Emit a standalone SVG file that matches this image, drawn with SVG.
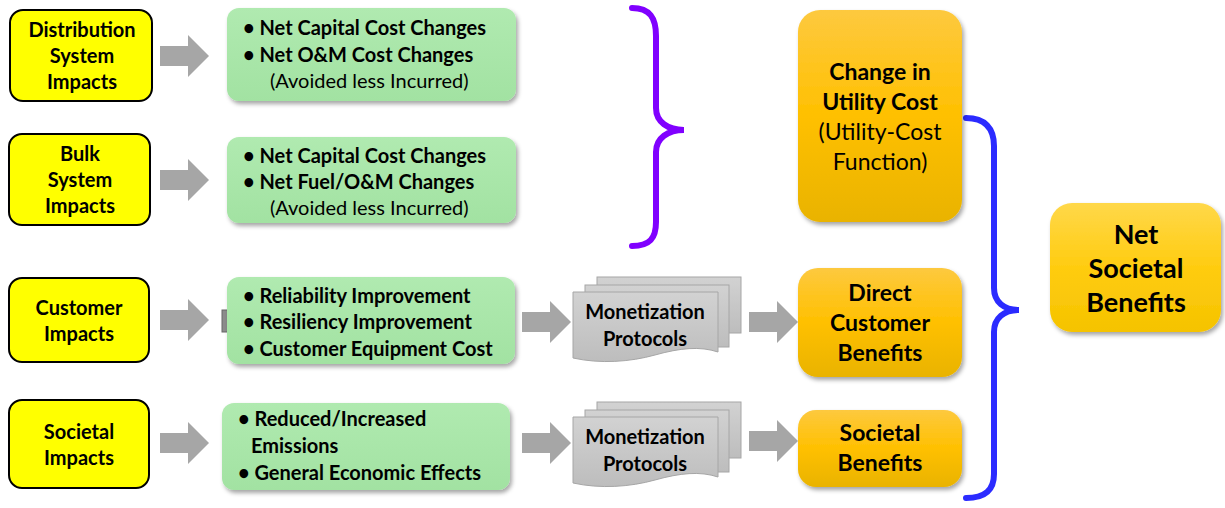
<svg xmlns="http://www.w3.org/2000/svg" width="1225" height="508" viewBox="0 0 1225 508">
<defs>
<filter id="sh" x="-10%" y="-10%" width="125%" height="130%">
<feDropShadow dx="2" dy="3" stdDeviation="2" flood-color="#000" flood-opacity="0.35"/>
</filter>
<linearGradient id="gGreen" x1="0" y1="0" x2="0" y2="1">
<stop offset="0" stop-color="#b0eab0"/><stop offset="1" stop-color="#a2e2a2"/>
</linearGradient>
<linearGradient id="gOrange" x1="0" y1="0" x2="0" y2="1">
<stop offset="0" stop-color="#fdc93f"/><stop offset="0.5" stop-color="#ffc000"/><stop offset="1" stop-color="#e9b300"/>
</linearGradient>
<linearGradient id="gNet" x1="0" y1="0" x2="0" y2="1">
<stop offset="0" stop-color="#ffd84a"/><stop offset="0.5" stop-color="#ffcc10"/><stop offset="1" stop-color="#f5c300"/>
</linearGradient>
<linearGradient id="gDoc" x1="0" y1="0" x2="0" y2="1">
<stop offset="0" stop-color="#d2d2d2"/><stop offset="1" stop-color="#bdbdbd"/>
</linearGradient>
<path id="arr" d="M0,-10 H28 V-21 L49,0 L28,21 V10 H0 Z"/>
</defs>
<style>
.yel{fill:#ffff00;stroke:#000;stroke-width:2}
.grn{fill:url(#gGreen);filter:url(#sh)}
.org{fill:url(#gOrange);filter:url(#sh)}
.doc{fill:url(#gDoc);stroke:#a6a6a6;stroke-width:1}
.arrow{fill:#a6a6a6}
text{font-family:Lato,"Open Sans","Liberation Sans",sans-serif;fill:#000}
.b{font-weight:bold}
.y{font-size:20px;text-anchor:middle;font-weight:bold}
.g{font-size:20px;font-weight:bold}
.gr{font-size:20px}
.m{font-size:20px;text-anchor:middle;font-weight:bold}
.o{font-size:23px;text-anchor:middle}
.n{font-size:27px;text-anchor:middle;font-weight:bold}
.brace{fill:none;stroke-width:6;stroke-linecap:round}
</style>
<rect width="1225" height="508" fill="#fff"/>

<g id="connectors">
<use href="#arr" class="arrow" x="160" y="56"/>
<use href="#arr" class="arrow" x="160" y="180"/>
<use href="#arr" class="arrow" x="160" y="320"/>
<use href="#arr" class="arrow" x="160" y="443"/>
<rect x="222" y="310" width="6" height="22" fill="#8c8c8c" stroke="#666" stroke-width="1"/>
<use href="#arr" class="arrow" x="522" y="322"/>
<use href="#arr" class="arrow" x="522" y="443"/>
<use href="#arr" class="arrow" x="749" y="322"/>
<use href="#arr" class="arrow" x="749" y="441"/>
<path class="brace" stroke="#8000ff" d="M632,8 C650,8 656,18 656,36 V108 C656,122 668,130 684,130 C668,130 656,138 656,152 V222 C656,238 650,246 632,246"/>
<path class="brace" stroke="#2b2bff" d="M966,118 C985,118 994,128 994,146 V288 C994,302 1004,310 1019,310 C1004,310 994,318 994,332 V474 C994,490 985,498 966,498"/>
</g>

<g id="dist">
<rect class="yel" x="10" y="10" width="142" height="91" rx="13"/>
<text class="y" x="82" y="37">Distribution</text>
<text class="y" x="82" y="63">System</text>
<text class="y" x="82" y="89">Impacts</text>
</g>
<g id="bulk">
<rect class="yel" x="9" y="134" width="141" height="91" rx="13"/>
<text class="y" x="80" y="161">Bulk</text>
<text class="y" x="80" y="187">System</text>
<text class="y" x="80" y="213">Impacts</text>
</g>
<g id="cust">
<rect class="yel" x="9" y="278" width="140" height="84" rx="13"/>
<text class="y" x="79" y="315">Customer</text>
<text class="y" x="79" y="341">Impacts</text>
</g>
<g id="soc">
<rect class="yel" x="9" y="400" width="140" height="88" rx="13"/>
<text class="y" x="79" y="439">Societal</text>
<text class="y" x="79" y="465">Impacts</text>
</g>

<g id="g1">
<rect class="grn" x="227" y="8" width="289" height="93" rx="12"/>
<text class="g" x="243" y="35">• Net Capital Cost Changes</text>
<text class="g" x="243" y="62">• Net O&amp;M Cost Changes</text>
<text class="gr" x="270" y="88">(Avoided less Incurred)</text>
</g>
<g id="g2">
<rect class="grn" x="227" y="137" width="289" height="86" rx="12"/>
<text class="g" x="243" y="163">• Net Capital Cost Changes</text>
<text class="g" x="243" y="189">• Net Fuel/O&amp;M Changes</text>
<text class="gr" x="270" y="215">(Avoided less Incurred)</text>
</g>
<g id="g3">
<rect class="grn" x="227" y="277" width="288" height="87" rx="12"/>
<text class="g" x="243" y="303">• Reliability Improvement</text>
<text class="g" x="243" y="329">• Resiliency Improvement</text>
<text class="g" x="243" y="356">• Customer Equipment Cost</text>
</g>
<g id="g4">
<rect class="grn" x="222" y="403" width="288" height="87" rx="12"/>
<text class="g" x="238" y="426">• Reduced/Increased</text>
<text class="g" x="251" y="453">Emissions</text>
<text class="g" x="238" y="480">• General Economic Effects</text>
</g>

<g id="mon1">
<rect class="doc" x="597" y="277" width="144" height="56"/>
<rect class="doc" x="585" y="285" width="144" height="62"/>
<path class="doc" d="M573,292 H718 V352 C700,346 680,348 655,355 C630,362 600,364 573,358 Z"/>
<text class="m" x="645" y="319">Monetization</text>
<text class="m" x="645" y="346">Protocols</text>
</g>
<g id="mon2">
<rect class="doc" x="597" y="402" width="144" height="56"/>
<rect class="doc" x="585" y="410" width="144" height="62"/>
<path class="doc" d="M573,417 H718 V477 C700,471 680,473 655,480 C630,487 600,489 573,483 Z"/>
<text class="m" x="645" y="444">Monetization</text>
<text class="m" x="645" y="471">Protocols</text>
</g>

<g id="util">
<rect class="org" x="798" y="10" width="164" height="212" rx="22"/>
<text class="o b" x="880" y="80">Change in</text>
<text class="o b" x="880" y="110">Utility Cost</text>
<text class="o" x="880" y="140">(Utility-Cost</text>
<text class="o" x="880" y="170">Function)</text>
</g>
<g id="direct">
<rect class="org" x="798" y="268" width="164" height="109" rx="20"/>
<text class="o b" x="880" y="301">Direct</text>
<text class="o b" x="880" y="331">Customer</text>
<text class="o b" x="880" y="361">Benefits</text>
</g>
<g id="socben">
<rect class="org" x="798" y="410" width="164" height="77" rx="18"/>
<text class="o b" x="880" y="441">Societal</text>
<text class="o b" x="880" y="471">Benefits</text>
</g>
<g id="net">
<rect x="1050" y="203" width="171" height="129" rx="22" fill="url(#gNet)" filter="url(#sh)"/>
<text class="n" x="1136" y="244">Net</text>
<text class="n" x="1136" y="278">Societal</text>
<text class="n" x="1136" y="312">Benefits</text>
</g>
</svg>
